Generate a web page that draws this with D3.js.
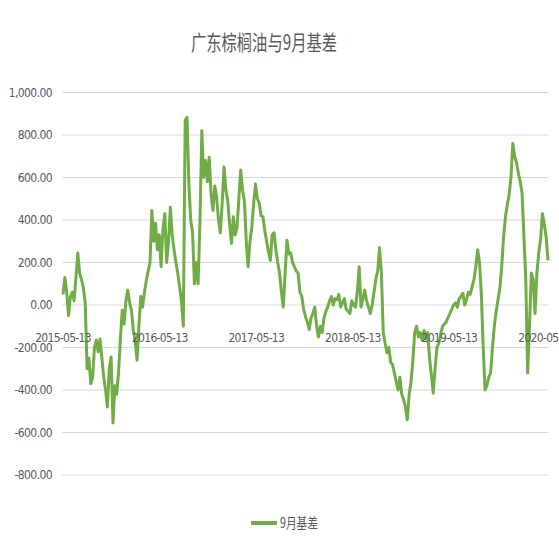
<!DOCTYPE html>
<html><head><meta charset="utf-8">
<script src="https://cdn.jsdelivr.net/npm/d3@7"></script>
<style>body{margin:0;background:#fff}svg{display:block}</style>
</head><body>
<svg id="c" width="559" height="541"></svg>
<script>
const title = "广东棕榈油与9月基差";
const seriesName = "9月基差";
const startDate = "2015-05-13";
const stepDays = 7;
const basis = [
50,130,60,-50,40,60,20,130,245,150,120,80,10,-300,-250,-370,-340,-200,-165,-220,
-160,-250,-340,-400,-480,-300,-245,-555,-380,-420,-320,-160,-25,-90,20,70,10,-25,-120,-170,
-260,-100,40,-10,60,115,160,200,445,300,385,260,330,180,360,430,200,300,460,330,
260,200,150,85,20,-100,870,883,570,400,340,100,200,100,400,820,600,680,580,695,
520,445,560,507,400,340,480,650,540,490,380,290,415,330,365,500,635,540,490,300,
180,300,365,480,570,500,480,420,415,350,300,250,210,330,340,260,200,150,60,-10,
150,305,240,245,200,180,160,150,60,40,-20,-55,-80,-115,-60,-40,-10,-100,-150,-100,
-130,-60,-30,-10,20,40,0,30,25,50,-10,10,30,-20,-30,-40,20,0,-10,60,
180,-10,30,70,20,-10,-40,0,60,120,160,270,150,-130,-180,-225,-200,-270,-280,-320,
-360,-400,-340,-420,-445,-480,-540,-420,-365,-260,-130,-100,-150,-130,-165,-120,-160,-130,-250,-330,
-415,-300,-200,-180,-140,-100,-90,-80,-60,-40,-20,0,10,-10,30,40,55,0,25,60,
50,85,120,180,260,200,50,-200,-400,-380,-340,-320,-200,-100,-30,25,80,180,320,415,
470,520,600,760,700,670,620,580,525,320,120,-320,-100,150,120,-40,150,245,310,430,
380,320,210
];
const yTicks = [1000,800,600,400,200,0,-200,-400,-600,-800];
const xTickLabels = ["2015-05-13","2016-05-13","2017-05-13","2018-05-13","2019-05-13","2020-05-13"];

const parse = d3.utcParse("%Y-%m-%d");
const t0 = parse(startDate);
const data = basis.map((v,i)=>({d:d3.utcDay.offset(t0, i*stepDays), v}));

const svg = d3.select("#c");
const plotL = 63, plotR = 548, plotT = 92.5, plotB = 475;
const x = d3.scaleUtc().domain(d3.extent(data, d=>d.d)).range([plotL, plotR]);
const y = d3.scaleLinear().domain([-800,1000]).range([plotB, plotT]);
const fmt = d3.format(",.2f");
const txt = "#595959";

svg.append("text").attr("x",264).attr("y",50).attr("text-anchor","middle")
  .attr("font-family","Noto Sans CJK SC").attr("font-size",21).attr("fill",txt)
  .attr("textLength",146).attr("lengthAdjust","spacingAndGlyphs").text(title);

svg.append("g").selectAll("line").data(yTicks).join("line")
  .attr("x1",62).attr("x2",548).attr("y1",d=>y(d)).attr("y2",d=>y(d))
  .attr("stroke","#d9d9d9").attr("stroke-width",1);

svg.append("g").selectAll("text").data(yTicks).join("text")
  .attr("x",52).attr("y",d=>y(d)).attr("dy","0.35em").attr("text-anchor","end")
  .attr("font-family","DejaVu Sans Condensed").attr("font-size",12).attr("fill",txt)
  .attr("letter-spacing",-0.6)
  .text(d=>fmt(d).replace("\u2212","-"));

const line = d3.line().x(d=>x(d.d)).y(d=>y(d.v)).curve(d3.curveLinear);
svg.append("path").datum(data).attr("d",line).attr("fill","none")
  .attr("stroke","#70AD47").attr("stroke-width",3).attr("stroke-linejoin","round");

svg.append("g").selectAll("text").data(xTickLabels).join("text")
  .attr("x",d=>x(parse(d))).attr("y",338).attr("dy","0.35em").attr("text-anchor","middle")
  .attr("font-family","DejaVu Sans Condensed").attr("font-size",12).attr("fill",txt)
  .attr("letter-spacing",-0.7)
  .text(d=>d);

svg.append("line").attr("x1",251).attr("x2",277).attr("y1",523).attr("y2",523)
  .attr("stroke","#70AD47").attr("stroke-width",4);
svg.append("text").attr("x",280).attr("y",523).attr("dy","0.35em")
  .attr("font-family","Noto Sans CJK SC").attr("font-size",14).attr("fill",txt)
  .attr("textLength",38).attr("lengthAdjust","spacingAndGlyphs").text(seriesName);
</script>
</body></html>
